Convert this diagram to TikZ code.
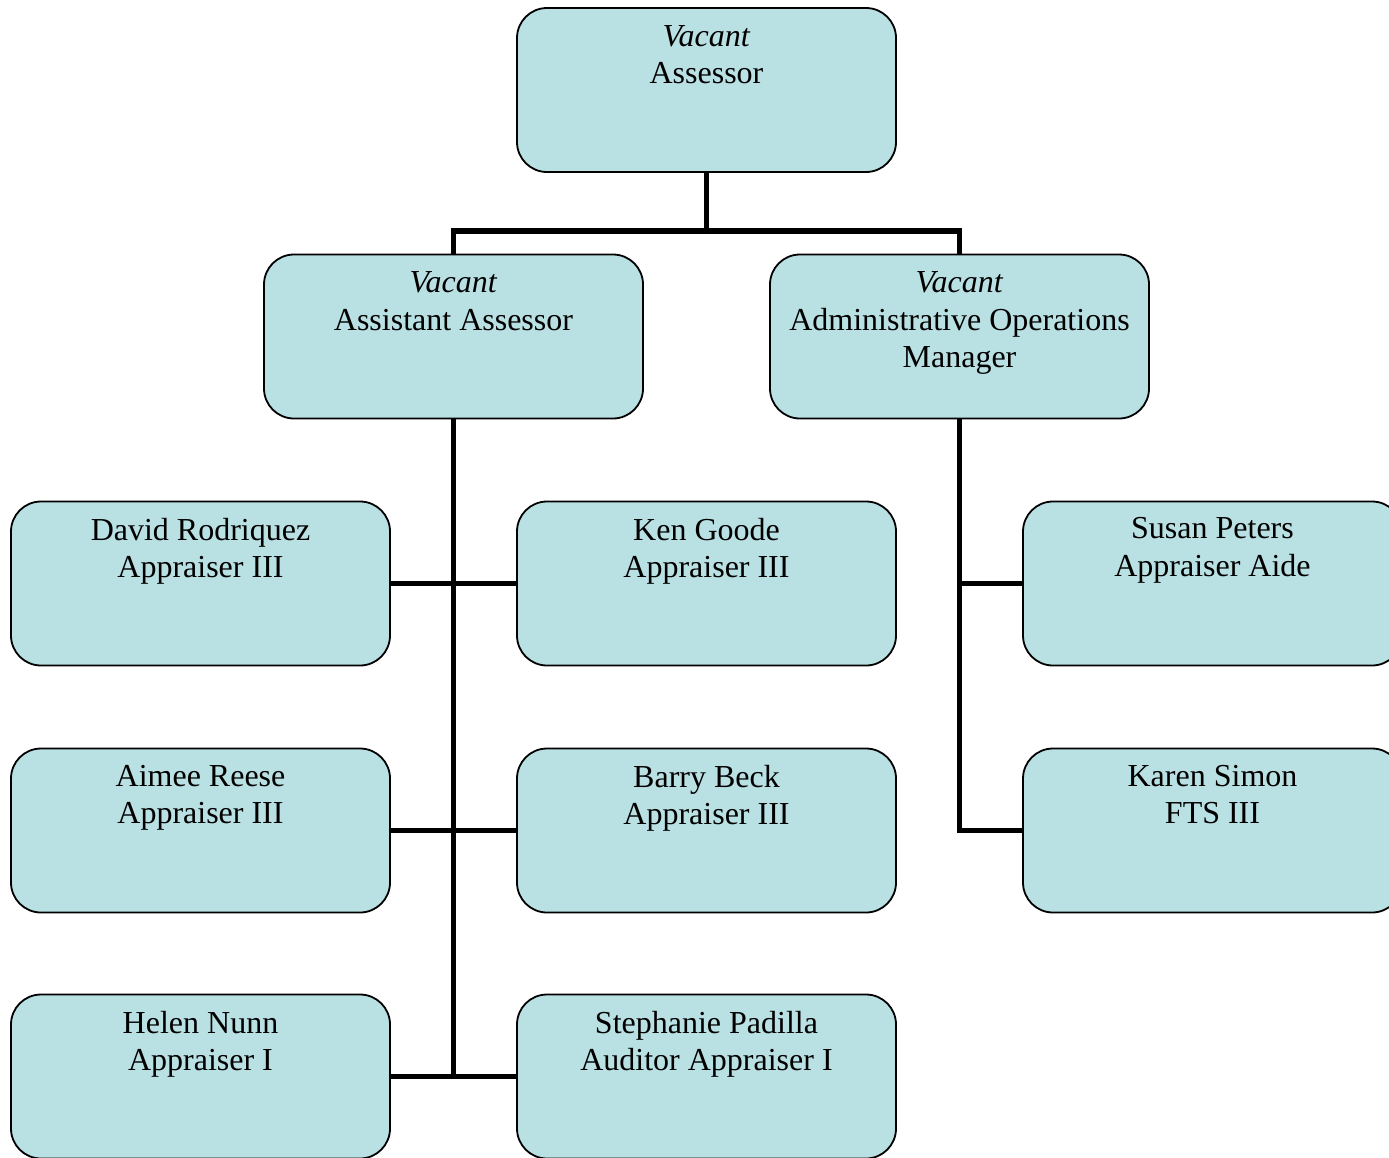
\documentclass[tikz,border=0pt]{standalone}
\usepackage{fontspec}
\setmainfont{Liberation Serif}
\begin{document}
\definecolor{boxfill}{RGB}{185,224,227}
\begin{tikzpicture}[x=1pt,y=-1pt,
  box/.style={draw=black, line width=1.8pt, fill=boxfill, rounded corners=30pt,
    minimum width=379pt, minimum height=164pt, inner sep=0pt},
  txt/.style={anchor=north, align=center, inner sep=0pt,
    font=\fontsize{32}{37.5}\selectfont},
  conn/.style={draw=black, line width=5.5pt}]
\useasboundingbox (0,0) rectangle (1389,1157);

% junction under the assessor
\coordinate (jt) at (706.5,231);

% boxes
\node[box] (ass)  at (706.5,90)   {};
\node[box] (asst) at (453.5,336.5) {};
\node[box] (aom)  at (959.5,336.5) {};
\node[box] (dr) at (200.5,583.5)  {};
\node[box] (kg) at (706.5,583.5)  {};
\node[box] (sp) at (1212.5,583.5) {};
\node[box] (ar) at (200.5,830.5)  {};
\node[box] (bb) at (706.5,830.5)  {};
\node[box] (ks) at (1212.5,830.5) {};
\node[box] (hn) at (200.5,1076.5) {};
\node[box] (st) at (706.5,1076.5) {};

% reporting lines
\draw[conn] (ass.south) -- (jt);
\draw[conn] (asst.north) |- (jt) -| (aom.north);
\draw[conn] (asst.south) -- (asst.south |- hn.west);
\draw[conn] (dr.east) -- (kg.west);
\draw[conn] (ar.east) -- (bb.west);
\draw[conn] (hn.east) -- (st.west);
\draw[conn] (aom.south) |- (sp.west);
\draw[conn] (aom.south) |- (ks.west);

% labels
\node[txt] (tass)  at ([yshift=-18pt]ass.north)  {\textit{Vacant}\\Assessor};
\node[txt] (tasst) at ([yshift=-18pt]asst.north) {\textit{Vacant}\\Assistant Assessor};
\node[txt] (taom)  at ([yshift=-18pt]aom.north)  {\textit{Vacant}\\Administrative Operations\\Manager};
\node[txt] (tdr) at ([yshift=-17pt]dr.north) {David Rodriquez\\Appraiser III};
\node[txt] (tkg) at ([yshift=-17pt]kg.north) {Ken Goode\\Appraiser III};
\node[txt] (tsp) at ([yshift=-17pt]sp.north) {Susan Peters\\Appraiser Aide};
\node[txt] (tar) at ([yshift=-17pt]ar.north) {Aimee Reese\\Appraiser III};
\node[txt] (tbb) at ([yshift=-17pt]bb.north) {Barry Beck\\Appraiser III};
\node[txt] (tks) at ([yshift=-17pt]ks.north) {Karen Simon\\FTS III};
\node[txt] (thn) at ([yshift=-17pt]hn.north) {Helen Nunn\\Appraiser I};
\node[txt] (tst) at ([yshift=-17pt]st.north) {Stephanie Padilla\\Auditor Appraiser I};
\end{tikzpicture}
\end{document}
